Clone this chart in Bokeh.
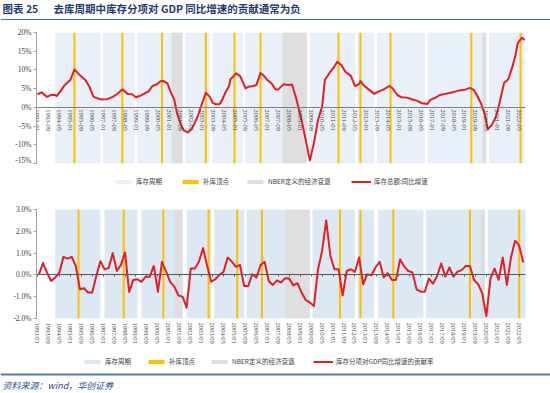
from bokeh.plotting import figure
from bokeh.models import (Range1d, FixedTicker, LinearAxis, Legend, LegendItem, Label, Span,
                          CustomJSTickFormatter)
from bokeh.layouts import column
from bokeh.embed import file_html
from bokeh.resources import INLINE

# ---------------- data ----------------
title_no = "图表 25"
title_text = "去库周期中库存分项对 GDP 同比增速的贡献通常为负"
source_text = "资料来源：wind，华创证券"

legend_top = ["库存周期", "补库顶点", "NBER定义的经济衰退", "库存总额:同比增速"]
legend_bottom = ["库存周期", "补库顶点", "NBER定义的经济衰退", "库存分项对GDP同比增速的贡献率"]

x_tick_labels = ["1993-01", "1993-09", "1994-05", "1995-01", "1995-09", "1996-05", "1997-01",
                 "1997-09", "1998-05", "1999-01", "1999-09", "2000-05", "2001-01", "2001-09",
                 "2002-05", "2003-01", "2003-09", "2004-05", "2005-01", "2005-09", "2006-05",
                 "2007-01", "2007-09", "2008-05", "2009-01", "2009-09", "2010-05", "2011-01",
                 "2011-09", "2012-05", "2013-01", "2013-09", "2014-05", "2015-01", "2015-09",
                 "2016-05", "2017-01", "2017-09", "2018-05", "2019-01", "2019-09", "2020-05",
                 "2021-01", "2021-09", "2022-05"]

top_y_ticks = [-15, -10, -5, 0, 5, 10, 15, 20]
top_y_labels = ["-15%", "-10%", "-5%", "0%", "5%", "10%", "15%", "20%"]
bottom_y_ticks = [-2, -1, 0, 1, 2, 3]
bottom_y_labels = ["-2.0%", "-1.0%", "0.0%", "1.0%", "2.0%", "3.0%"]

# 库存总额:同比增速 (%), monthly readings
top_dates = ["1993-01", "1993-04", "1993-08", "1993-11", "1994-02", "1994-03", "1994-06", "1994-09",
             "1995-01", "1995-04", "1995-08", "1995-12", "1996-03", "1996-06", "1996-10", "1996-12",
             "1997-04", "1997-08", "1997-11", "1998-03", "1998-07", "1998-10", "1999-01", "1999-04",
             "1999-08", "1999-10", "2000-01", "2000-04", "2000-07", "2000-09", "2000-12", "2001-02",
             "2001-05", "2001-07", "2001-10", "2001-12", "2002-03", "2002-06", "2002-10", "2002-12",
             "2003-03", "2003-04", "2003-07", "2003-09", "2003-11", "2004-02", "2004-04", "2004-06",
             "2004-09", "2004-10", "2004-12", "2005-02", "2005-05", "2005-07", "2005-09", "2005-11",
             "2006-03", "2006-05", "2006-08", "2006-10", "2007-01", "2007-04", "2007-07", "2007-09",
             "2008-01", "2008-04", "2008-07", "2008-10", "2009-02", "2009-06", "2009-08", "2009-11",
             "2010-02", "2010-05", "2010-07", "2010-11", "2011-01", "2011-04", "2011-07", "2011-10",
             "2012-02", "2012-05", "2012-08", "2012-09", "2012-11", "2013-03", "2013-07", "2013-10",
             "2014-02", "2014-06", "2014-08", "2014-12", "2015-03", "2015-07", "2015-11", "2016-02",
             "2016-06", "2016-10", "2016-12", "2017-04", "2017-07", "2017-11", "2018-03", "2018-06",
             "2018-10", "2019-02", "2019-05", "2019-08", "2019-10", "2020-01", "2020-04", "2020-06",
             "2020-09", "2020-12", "2021-02", "2021-06", "2021-09", "2021-12", "2022-02", "2022-04",
             "2022-07", "2022-09"]
top_values = [3.5, 4.0, 2.8, 3.3, 3.3, 3.0, 4.4, 6.0, 7.3, 10.1,
              8.6, 7.3, 5.5, 2.8, 2.3, 2.1, 2.2, 2.8, 3.5, 4.8,
              3.6, 3.5, 2.7, 3.1, 3.9, 4.2, 5.7, 6.1, 7.0, 7.1,
              6.4, 4.4, 2.0, -1.6, -4.7, -6.2, -6.7, -5.6, -2.5, -0.3,
              2.8, 3.9, 2.8, 1.2, 0.9, 0.8, 2.0, 3.7, 5.7, 7.5,
              8.2, 9.1, 8.4, 6.8, 5.1, 5.5, 5.7, 6.0, 9.2, 8.6,
              7.3, 6.4, 4.8, 4.8, 6.2, 6.0, 6.1, 2.5, -3.4, -10.5,
              -14.2, -9.6, -3.4, 0.2, 7.3, 9.5, 10.4, 12.2, 11.3, 9.5,
              8.4, 5.7, 6.2, 7.0, 6.0, 4.8, 3.6, 4.2, 4.8, 5.7,
              5.3, 3.3, 2.7, 2.6, 2.1, 1.8, 1.1, 0.9, 2.0, 2.6,
              3.3, 3.6, 3.9, 4.2, 4.6, 4.8, 5.2, 4.6, 3.3, 1.1,
              -2.0, -5.9, -4.7, -2.5, 0.2, 6.6, 7.5, 10.8, 13.5, 17.2,
              18.6, 18.0]

# 库存分项对GDP同比增速的贡献率 (%), quarterly from 1993Q1
bottom_first_quarter = "1993-01"
bottom_values = [0.0, 0.54, 0.1, -0.28, -0.12, 0.1, 0.83, 0.75, 0.83, 0.41,
                 -0.66, -0.61, -0.81, -0.81, -0.05, 0.63, 0.26, 0.31, 1.0, 0.18,
                 0.46, 1.03, -0.78, -0.23, -0.2, -0.32, -0.08, -0.09, 0.41, -0.78,
                 0.6, 0.15, -0.32, -0.54, -0.94, -1.0, -1.5, 0.29, 0.29, 0.6,
                 1.23, 0.41, -0.31, -0.2, 0.0, 0.14, 0.8, 0.61, 0.37, 0.46,
                 -0.51, -0.51, 0.03, -0.12, 0.45, 0.6, -0.28, -0.46, -0.25, -0.35,
                 -0.15, -0.17, -0.48, -0.38, -0.81, -1.15, -1.27, -1.43, 0.26, 1.1,
                 2.5, 0.88, 0.26, 0.26, -0.94, 0.18, 0.26, 0.14, 0.8, -0.43,
                 0.03, -0.02, 0.34, 0.6, -0.12, 0.08, -0.23, -0.23, 0.72, 0.38,
                 0.18, 0.11, -0.66, -0.77, -0.77, -0.17, -0.4, -0.05, 0.52, -0.08,
                 0.34, -0.08, 0.15, 0.22, 0.41, 0.41, -0.23, -0.43, -0.84, -1.9,
                 -0.17, 0.29, -0.23, 0.8, -0.46, 0.8, 1.57, 1.34, 0.57]

# 库存周期 (start, end), NBER recessions, 补库顶点
top_cycle_start = ["1994-02", "1997-01", "1999-02", "2002-01", "2003-09", "2005-09",
                   "2009-08", "2012-07", "2013-09", "2016-10", "2020-07"]
top_cycle_end = ["1996-11", "1998-12", "2001-11", "2003-07", "2005-07", "2009-06",
                 "2012-05", "2013-07", "2016-08", "2020-05", "2022-09"]
top_nber_start = ["2001-03", "2007-12", "2020-02"]
top_nber_end = ["2001-11", "2009-06", "2020-05"]
top_peaks = ["1995-04", "1998-03", "2000-08", "2003-04", "2005-01", "2006-08",
             "2011-05", "2012-09", "2014-07", "2019-06", "2022-06"]

bottom_cycle_start = ["1994-02", "1997-02", "1999-05", "2002-02", "2003-10", "2005-10",
                      "2009-10", "2012-07", "2013-10", "2016-09", "2020-06"]
bottom_cycle_end = ["1996-11", "1999-02", "2001-11", "2003-08", "2005-08", "2009-08",
                    "2012-05", "2013-07", "2016-07", "2020-04", "2022-10"]
bottom_nber_start = ["2001-05", "2008-02", "2020-01"]
bottom_nber_end = ["2001-11", "2009-08", "2020-04"]
bottom_peaks = ["1995-07", "1998-04", "2000-09", "2003-06", "2005-03", "2006-09",
                "2011-06", "2012-09", "2014-09", "2019-05", "2022-05"]

# ---------------- style ----------------
W = 550
X0, X1 = -0.7, 356.6
CJK = "Noto Sans CJK SC"
NUM = "Liberation Serif"
RED = "#E31E24"
YEL = "#FFC000"
GRAY = "#DCDEE0"
NAVY = "#1F3B6E"
TXT = "#404040"
TOP_BAND = "#E9F0F9"
BOT_BAND = "#DDE8F5"


def mi(s):
    y, m = s.replace("/", "-").split("-")
    return (int(y) - 1993) * 12 + int(m) - 1


x_ticks = [mi(s) for s in x_tick_labels]


def no_align(p):
    if hasattr(p, "frame_align"):
        p.frame_align = False
    return p


def blank(h, ymin, ymax, xmin=0, xmax=W):
    f = figure(width=W, height=h, x_range=Range1d(xmin, xmax), y_range=Range1d(ymin, ymax),
               output_backend="svg", toolbar_location=None, x_axis_location=None,
               y_axis_location=None, min_border=0, min_border_left=0, min_border_right=0,
               min_border_top=0, min_border_bottom=0, outline_line_color=None)
    f.grid.visible = False
    return no_align(f)


def draw_series(p, ymin, ymax, cstart, cend, nstart, nend, peaks, xs, ys, band_color):
    r_c = p.quad(left=[mi(s) for s in cstart], right=[mi(s) for s in cend],
                 bottom=ymin, top=ymax, fill_color=band_color, line_color=None)
    r_n = p.quad(left=[mi(s) for s in nstart], right=[mi(s) for s in nend],
                 bottom=ymin, top=ymax, fill_color=GRAY, line_color=None)
    r_p = p.vbar(x=[mi(s) for s in peaks], width=1.5, bottom=ymin, top=ymax,
                 fill_color=YEL, line_color=None)
    r_l = p.line(xs, ys, line_color=RED, line_width=2, line_join="round")
    return r_c, r_p, r_n, r_l


def chart(h, ymin, ymax, mtop, mbot, yt, yl, series):
    p = figure(width=W, height=h, x_range=Range1d(X0, X1), y_range=Range1d(ymin, ymax),
               output_backend="svg", toolbar_location=None, x_axis_location=None,
               y_axis_location="left", min_border_left=36, min_border_right=25,
               min_border_top=mtop, min_border_bottom=mbot, outline_line_color=None)
    p.grid.visible = False
    no_align(p)
    draw_series(p, ymin, ymax, *series)
    ya = p.yaxis[0]
    ya.ticker = FixedTicker(ticks=yt, minor_ticks=[])
    ya.major_label_overrides = {t: l for t, l in zip(yt, yl)}
    ya.major_label_text_font = NUM
    ya.major_label_text_font_size = "7.5px"
    ya.major_label_text_color = TXT
    ya.major_label_standoff = 2
    ya.axis_line_color = "#A0A0A0"
    ya.major_tick_line_color = "#A0A0A0"
    ya.major_tick_out = 3
    ya.major_tick_in = 0
    ya.minor_tick_line_color = None
    return p


def legend_fig(h, names, ymin, ymax, series, xs_pos, ypos):
    # legend strip: the same series on a y-window away from the data,
    # so only the legend swatches and labels show here
    f = blank(h, 1000, 1000 + h, X0, X1)
    rends = draw_series(f, ymin, ymax, *series)
    for name, r, xp in zip(names, rends, xs_pos):
        leg = Legend(items=[LegendItem(label=name, renderers=[r])],
                     location=(xp, ypos), orientation="horizontal", glyph_width=20,
                     glyph_height=5, label_height=8, label_width=10, label_standoff=3,
                     spacing=0, padding=0, margin=0, label_text_font=CJK,
                     label_text_font_size="6.5px", label_text_color=TXT,
                     border_line_color=None, background_fill_alpha=0)
        f.add_layout(leg, "center")
    return f


top_series = (top_cycle_start, top_cycle_end, top_nber_start, top_nber_end, top_peaks,
              [mi(d) for d in top_dates], top_values, TOP_BAND)
bx = [mi(bottom_first_quarter) + 3 * i + 1 for i in range(len(bottom_values))]
bot_series = (bottom_cycle_start, bottom_cycle_end, bottom_nber_start, bottom_nber_end,
              bottom_peaks, bx, bottom_values, BOT_BAND)

# ---------------- header ----------------
hdr = blank(25, 0, 25)
hdr.add_layout(Label(x=2, y=17, text=title_no, text_font=CJK, text_font_style="bold",
                     text_font_size="10.5px", text_color=NAVY, text_baseline="middle"))
hdr.add_layout(Label(x=53, y=17, text=title_text, text_font=CJK, text_font_style="bold",
                     text_font_size="10.5px", text_color=NAVY, text_baseline="middle"))
hdr.add_layout(Span(location=6, dimension="width", line_color="#416AA3", line_width=1.2))

# ---------------- top chart ----------------
top = chart(139, -15, 20, 7, 1, top_y_ticks, top_y_labels, top_series)
zax = LinearAxis(fixed_location=0, ticker=FixedTicker(ticks=x_ticks, minor_ticks=[]),
                 major_label_overrides={t: l for t, l in zip(x_ticks, x_tick_labels)},
                 major_label_orientation="vertical", major_label_text_font=NUM,
                 major_label_text_font_size="6.5px", major_label_text_color=TXT,
                 major_label_standoff=2, axis_line_color="#7F7F7F", axis_line_width=1,
                 major_tick_in=0, major_tick_out=0, minor_tick_line_color=None)
top.add_layout(zax, "below")

leg_top_fig = legend_fig(32, legend_top, -15, 20, top_series, [113, 180, 245, 351], 10)

# ---------------- bottom chart ----------------
bot = chart(158, -2, 3, 13, 36, bottom_y_ticks, bottom_y_labels, bot_series)
zax2 = LinearAxis(fixed_location=0, ticker=FixedTicker(ticks=x_ticks, minor_ticks=[]),
                  formatter=CustomJSTickFormatter(code="return ''"),
                  axis_line_color="#595959", axis_line_width=1, major_tick_line_color="#595959",
                  major_tick_in=0, major_tick_out=2, minor_tick_line_color=None)
bot.add_layout(zax2, "below")
bottom_tick_labels = [s.replace("-", "/") for s in x_tick_labels]
lax = LinearAxis(ticker=FixedTicker(ticks=x_ticks, minor_ticks=[]),
                 major_label_overrides={t: l for t, l in zip(x_ticks, bottom_tick_labels)},
                 major_label_orientation="vertical", major_label_text_font=NUM,
                 major_label_text_font_size="6.5px", major_label_text_color=TXT,
                 major_label_standoff=4, axis_line_color=None, major_tick_line_color=None,
                 major_tick_in=0, major_tick_out=0, minor_tick_line_color=None)
bot.add_layout(lax, "below")

leg_bot_fig = legend_fig(14, legend_bottom, -2, 3, bot_series, [82, 146, 209, 313], 2)

# ---------------- footer ----------------
ftr = blank(25, 0, 25)
ftr.add_layout(Span(location=19, dimension="width", line_color="#5679AE", line_width=2))
ftr.add_layout(Label(x=2, y=8, text=source_text, text_font=CJK, text_font_style="italic",
                     text_font_size="9px", text_color="#2F4F8F", text_baseline="middle"))

layout = column(hdr, top, leg_top_fig, bot, leg_bot_fig, ftr, spacing=0)
open("out.html", "w").write(file_html(layout, INLINE))
